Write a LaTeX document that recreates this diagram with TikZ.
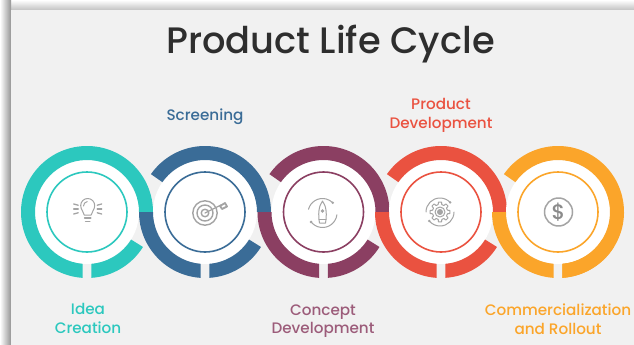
\documentclass[tikz,border=0pt]{standalone}
\usepackage{fontspec}
\setmainfont{Poppins Medium}
\definecolor{bgc}{HTML}{F1F1F1}
\definecolor{tealc}{HTML}{2CC8BE}
\definecolor{bluec}{HTML}{3A6C97}
\definecolor{plumc}{HTML}{8B3F62}
\definecolor{redc}{HTML}{EA5240}
\definecolor{orangec}{HTML}{FBA52A}
\definecolor{iconc}{HTML}{A4A4A4}
\definecolor{titlec}{HTML}{2E2E2E}
% annular sector: outer from #1 to #2, inner from #4 back to #3 (pixel radii 66 and 52)
\newcommand{\sector}[5]{\fill[#5] (#1:66) arc[start angle=#1,end angle=#2,radius=66] -- (#4:52) arc[start angle=#4,end angle=#3,radius=52] -- cycle;}
\tikzset{
  label5/.style={align=center,font=\fontsize{15.2}{18.5}\selectfont,inner sep=0pt},
  iconline/.style={draw=iconc,line width=1pt,line cap=round,line join=round},
  thinring/.style={line width=1.6pt,fill=none},
  hub/.style={fill=white},
  cell/.style={shift={#1},x=1pt,y=1pt}
}
\begin{document}
\begin{tikzpicture}[x=1pt,y=-1pt]
\useasboundingbox (0,0) rectangle (634,345);
\fill[white] (0,0) rectangle (634,345);
\shade[top color=white,bottom color=black!24] (0,0) rectangle (634,10);
\shade[left color=white,right color=black!42] (0,0) rectangle (11,345);
\fill[bgc] (11,10) rectangle (634,345);

\node[font=\fontsize{36.8}{42}\selectfont,text=titlec,inner sep=0pt] (title) at (330.5,44) {Product Life Cycle};

% ring 1
\begin{scope}[cell={(87,212)}]
  \fill[hub] (0,0) circle[radius=52];
  \draw[thinring,tealc] (0,0) circle[radius=40];
  \sector{0}{266.3}{0}{265.3}{tealc}
  \sector{-86.3}{-32}{-85.3}{-32}{tealc}
  % bulb
  \begin{scope}[xshift=0.7pt]
  \draw[iconline] (-3.5,-3) .. controls (-4,1) and (-7,2) .. (-7,6.5) arc[start angle=180,end angle=0,radius=7] .. controls (7,2) and (4,1) .. (3.5,-3) -- cycle;
  \draw[iconline] (-4.2,6) arc[start angle=180,end angle=100,radius=4.5];
  \draw[iconline,line width=1.8pt] (-3,-6) -- (3,-6);
  \draw[iconline,line width=1.8pt] (-2,-9.5) -- (2,-9.5);
  \foreach \yy/\dy in {8/2,3/0,-2/-2}{
    \draw[iconline,line width=1.3pt] (-14,\yy) -- (-9.5,\yy-\dy*0.6);
    \draw[iconline,line width=1.3pt] (14,\yy) -- (9.5,\yy-\dy*0.6);
  }
  \end{scope}
\end{scope}

% ring 2
\begin{scope}[cell={(205,212)}]
  \fill[hub] (0,0) circle[radius=52];
  \draw[thinring,bluec] (0,0) circle[radius=40];
  \sector{145}{0}{145}{0}{bluec}
  \sector{180}{266.3}{180}{265.3}{bluec}
  \sector{-86.3}{-32}{-85.3}{-32}{bluec}
  \draw[iconline,line width=1.4pt] (0,-1) circle[radius=12.2];
  \draw[iconline,line width=1.4pt] (0,-1) circle[radius=8];
  \draw[iconline,line width=1.4pt] (0,-1) circle[radius=3.8];
  \draw[iconline,line width=1.3pt] (0,-1) -- (16,7);
  \draw[iconline,line width=1.8pt] (15,6) -- (17,3) -- (22,5.5) -- (20,9) -- cycle;
\end{scope}

% ring 3
\begin{scope}[cell={(323.5,212)}]
  \fill[hub] (0,0) circle[radius=52];
  \draw[thinring,plumc] (0,0) circle[radius=40];
  \sector{145}{0}{145}{0}{plumc}
  \sector{180}{266.3}{180}{265.3}{plumc}
  \sector{-86.3}{-32}{-85.3}{-32}{plumc}
  \draw[iconline] (-1,11) .. controls (-5,6) and (-5.5,-3) .. (-4,-11) -- (2,-11) .. controls (3.5,-3) and (3,6) .. (-1,11) -- cycle;
  \draw[iconline] (-4.5,-7) -- (2.5,-7);
  \fill[iconc] (-1,1) circle[radius=1.9];
  \begin{scope}[shift={(-1,-1)}]
    \draw[iconline] (165:14.5) arc[start angle=165,end angle=45,radius=14.5];
    \draw[iconline] (-7:14.5) arc[start angle=-7,end angle=-142,radius=14.5];
    \fill[iconc] (45:14.5) circle[radius=1.4];
    \fill[iconc] (-142:14.5) circle[radius=1.4];
  \end{scope}
\end{scope}

% ring 4
\begin{scope}[cell={(441,212)}]
  \fill[hub] (0,0) circle[radius=52];
  \draw[thinring,redc] (0,0) circle[radius=40];
  \sector{145}{0}{145}{0}{redc}
  \sector{180}{266.3}{180}{265.3}{redc}
  \sector{-86.3}{-32}{-85.3}{-32}{redc}
  \begin{scope}[xshift=-1pt]
    \fill[iconc] (0,0) circle[radius=3];
    \draw[iconline] (0,0) circle[radius=5];
    \foreach \a in {0,45,...,315}{
      \draw[iconline] (\a-14:7.6) -- (\a-9:10) -- (\a+9:10) -- (\a+14:7.6)
        arc[start angle=\a+14,end angle=\a+31,radius=7.6];
    }
    \draw[iconline] (180:14) arc[start angle=180,end angle=43,radius=14];
    \draw[iconline] (0:14) arc[start angle=0,end angle=-140,radius=14];
    \fill[iconc] (43:14) circle[radius=1.3];
    \fill[iconc] (-140:14) circle[radius=1.3];
  \end{scope}
\end{scope}

% ring 5
\begin{scope}[cell={(558,212)}]
  \fill[hub] (0,0) circle[radius=52];
  \draw[thinring,orangec] (0,0) circle[radius=40];
  \sector{145}{-86.3}{145}{-85.3}{orangec}
  \sector{180}{266.3}{180}{265.3}{orangec}
  \sector{-86.3}{-32}{-85.3}{-32}{orangec}
  \draw[iconline,line width=1.5pt] (0.5,0) circle[radius=14];
  \node[font=\fontsize{21}{21}\selectfont,text=iconc!85!black,inner sep=0pt] (dollar) at (0.5,0) {\$};
\end{scope}

\node[label5,text=tealc] (l1) at (88,318.5) {Idea\\Creation};
\node[label5,text=bluec] (l2) at (205,117) {Screening};
\node[label5,text=plumc!85!white] (l3) at (323,321) {Concept\\Development};
\node[label5,text=redc] (l4) at (441,115.5) {Product\\Development};
\node[label5,text=orangec] (l5) at (558,319) {Commercialization\\and Rollout};
\end{tikzpicture}
\end{document}
